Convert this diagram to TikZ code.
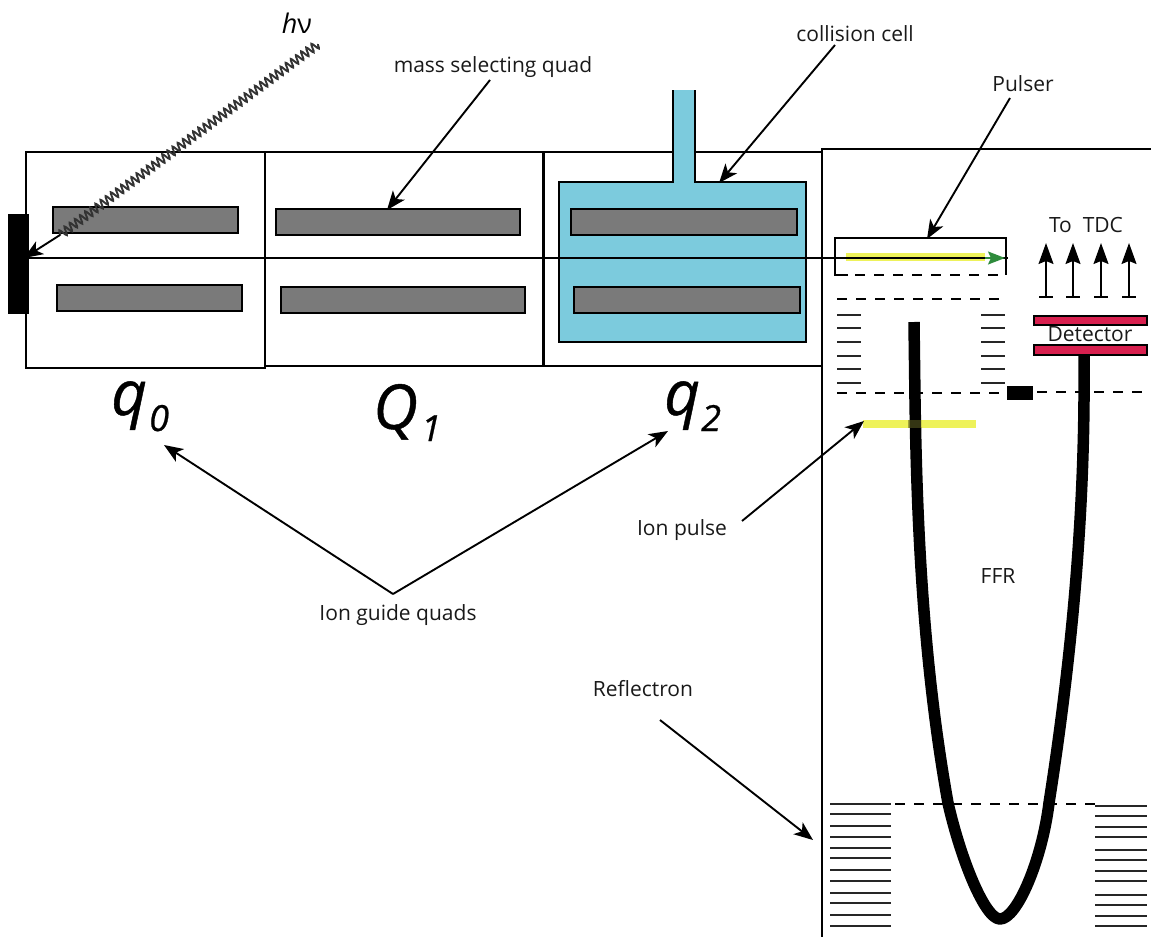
\documentclass[tikz,border=0pt]{standalone}
\usepackage{fontspec}
\setmainfont{Open Sans}
\newfontfamily\bigfont{Open Sans}[ItalicFeatures={FakeBold=0.7}]
\usetikzlibrary{arrows.meta,decorations.pathmorphing}
\definecolor{cellblue}{HTML}{7CCBDD}
\definecolor{rodgray}{HTML}{7A7A7A}
\definecolor{detred}{HTML}{D8204F}
\definecolor{ionyellow}{HTML}{EEF25A}
\definecolor{beamgreen}{HTML}{2E8B3C}
\tikzset{
  box/.style={draw=black,line width=1.7pt},
  rod/.style={draw=black,fill=rodgray,line width=1.9pt},
  lbl/.style={inner sep=0pt,font=\fontsize{21}{24}\selectfont,text=black!90},
  biglbl/.style={inner sep=0pt,font=\bigfont\fontsize{62}{66}\selectfont\itshape},
  sublbl/.style={inner sep=0pt,font=\bigfont\fontsize{36}{38}\selectfont\itshape},
  pointer/.style={line width=1.9pt,-{Stealth[length=19pt,width=15pt,inset=5pt]}},
  tdcarrow/.style={line width=1.5pt,-{Stealth[length=21pt,width=15pt,inset=3pt]}},
  grid dash/.style={line width=1.8pt,dash pattern=on 10pt off 9pt},
  plate/.style={line width=2pt,draw=black!85},
  path curve/.style={line width=11.5pt,line cap=butt,line join=round}
}
\begin{document}
\begin{tikzpicture}[x=1pt,y=-1pt]
\useasboundingbox (0,0) rectangle (1151,937);
% quadrupole boxes
\draw[box] (26,152) rectangle (265,368);
\draw[box] (265,152) rectangle (543,366);
\draw[box] (543,152) -- (822,152);
\draw[box] (543,366) -- (822,366);
\draw[line width=3pt] (543,151) -- (543,366);
% collision cell
\fill[cellblue] (673,90) rectangle (695,184);
\fill[cellblue] (559,182) rectangle (806,342);
\draw[box] (673,90) -- (673,182) -- (559,182) -- (559,342) -- (806,342) -- (806,182) -- (695,182) -- (695,90);
% rods
\draw[rod] (53,207) rectangle (238,233);
\draw[rod] (57,285) rectangle (242,311);
\draw[rod] (276,209) rectangle (520,235);
\draw[rod] (281,287) rectangle (525,313);
\draw[rod] (571,209) rectangle (797,235);
\draw[rod] (574,287) rectangle (800,313);
% TOF chamber
\draw[box] (1151,149) -- (822,149) -- (822,937);
% source
\fill[black] (8,214) rectangle (29,314);
% pulser
\draw[line width=1.7pt] (848,275) -- (835,275) -- (835,238) -- (1006,238) -- (1006,275);
\draw[grid dash] (855,275) -- (1006,275);
\draw[grid dash] (837,299) -- (1004,299);
% ion packet at the pulser and beam
\draw[ionyellow,line width=8pt] (846,257) -- (985,257);
\draw[line width=1.4pt] (26,258) -- (1008,258);
\draw[beamgreen,line width=1.8pt,-{Stealth[length=17pt,width=13pt,inset=3pt]}] (985,258) -- (1005,258);
% acceleration plates
\foreach \y in {315,328,342,356,369,383}{
  \draw[plate] (837,\y) -- (861,\y);
  \draw[plate] (981,\y) -- (1005,\y);
}
\draw[grid dash] (837,393) -- (1007,393);
\fill[black] (1007,386) rectangle (1033,400);
\draw[grid dash] (1037,392) -- (1146,392);
% reflectron
\foreach \y in {804,814,826,837,848,858,870,881,893,903,915,926}
  \draw[plate] (830,\y) -- (891,\y);
\foreach \y in {806,816,827,837,850,860,871,881,895,905,916,926}
  \draw[plate] (1095,\y) -- (1147,\y);
\draw[grid dash] (895,804) -- (1095,804);
% ion pulse
\draw[ionyellow,line width=8pt] (863,424) -- (976,424);
% flight path
\draw[path curve] (914,322) -- (915,400)
  .. controls (917,534) and (924,669) .. (948,803)
  .. controls (961,860) and (985,919) .. (1000,919)
  .. controls (1017,919) and (1042,860) .. (1049,803)
  .. controls (1070,669) and (1083,534) .. (1084,400)
  -- (1084,355);
\fill[black!60!ionyellow,opacity=.55] (908,420) rectangle (921,428);
% detector
\draw[draw=black,fill=detred,line width=1.4pt] (1034,316) rectangle (1147,325);
\draw[draw=black,fill=detred,line width=1.4pt] (1034,345) rectangle (1147,355);
\foreach \x/\n in {1046/a,1073/b,1101/c,1129/d}{
  \coordinate (t\n) at (\x,297);
  \coordinate (h\n) at (\x,243);
  \draw[tdcarrow] (t\n) -- (h\n);
  \draw[line width=1.5pt] (\x-7,297) -- (\x+7,297);
}
% labels
\node[lbl] (det) at (1090,334) {Detector};
\node[lbl] (tdc) at (1086,225) {To\ \ TDC};
\node[lbl] (ffr) at (998,576) {FFR};
\node[lbl] (ionp) at (682,530) {Ion pulse};
\node[lbl] (refl) at (643,689) {Reflectron};
\node[lbl] (guide) at (398,615) {Ion guide quads};
\node[lbl] (mass) at (493,67) {mass selecting quad};
\node[lbl] (coll) at (855,34) {collision cell};
\node[lbl] (puls) at (1023,84) {Pulser};
\node[inner sep=0pt,font=\fontsize{27}{29}\selectfont] (hnu) at (297,23) {\textit{h}ν};
\node[biglbl,anchor=base west] (q0) at (111,415) {q};
\node[sublbl,anchor=base west] (q0s) at (149,431) {0};
\node[biglbl,anchor=base west] (Q1) at (373,429) {Q};
\node[sublbl,anchor=base west] (Q1s) at (421,441) {1};
\node[biglbl,anchor=base west] (q2) at (664,415) {q};
\node[sublbl,anchor=base west] (q2s) at (701,431) {2};
% pointers
\coordinate (massS) at (490,80);   \coordinate (massE) at (387,210);
\coordinate (collS) at (835,45);   \coordinate (collE) at (719,183);
\coordinate (pulsS) at (1010,98);  \coordinate (pulsE) at (927,239);
\coordinate (ionS) at (742,521);   \coordinate (ionE) at (864,421);
\coordinate (reflS) at (660,720);  \coordinate (reflE) at (813,840);
\coordinate (guideS) at (393,594); \coordinate (q0E) at (164,445); \coordinate (q2E) at (668,431);
\draw[pointer] (massS) -- (massE);
\draw[pointer] (collS) -- (collE);
\draw[pointer] (pulsS) -- (pulsE);
\draw[pointer] (ionS) -- (ionE);
\draw[pointer] (reflS) -- (reflE);
\draw[pointer] (guideS) -- (q0E);
\draw[pointer] (guideS) -- (q2E);
% photon
\coordinate (phS) at (318,44); \coordinate (phM) at (60,235); \coordinate (phE) at (24,258);
\draw[line width=1.9pt,black!80,decorate,decoration={snake,segment length=6.4pt,amplitude=4.2pt}] (phS) -- (phM);
\draw[pointer] (phM) -- (phE);
\end{tikzpicture}
\end{document}
